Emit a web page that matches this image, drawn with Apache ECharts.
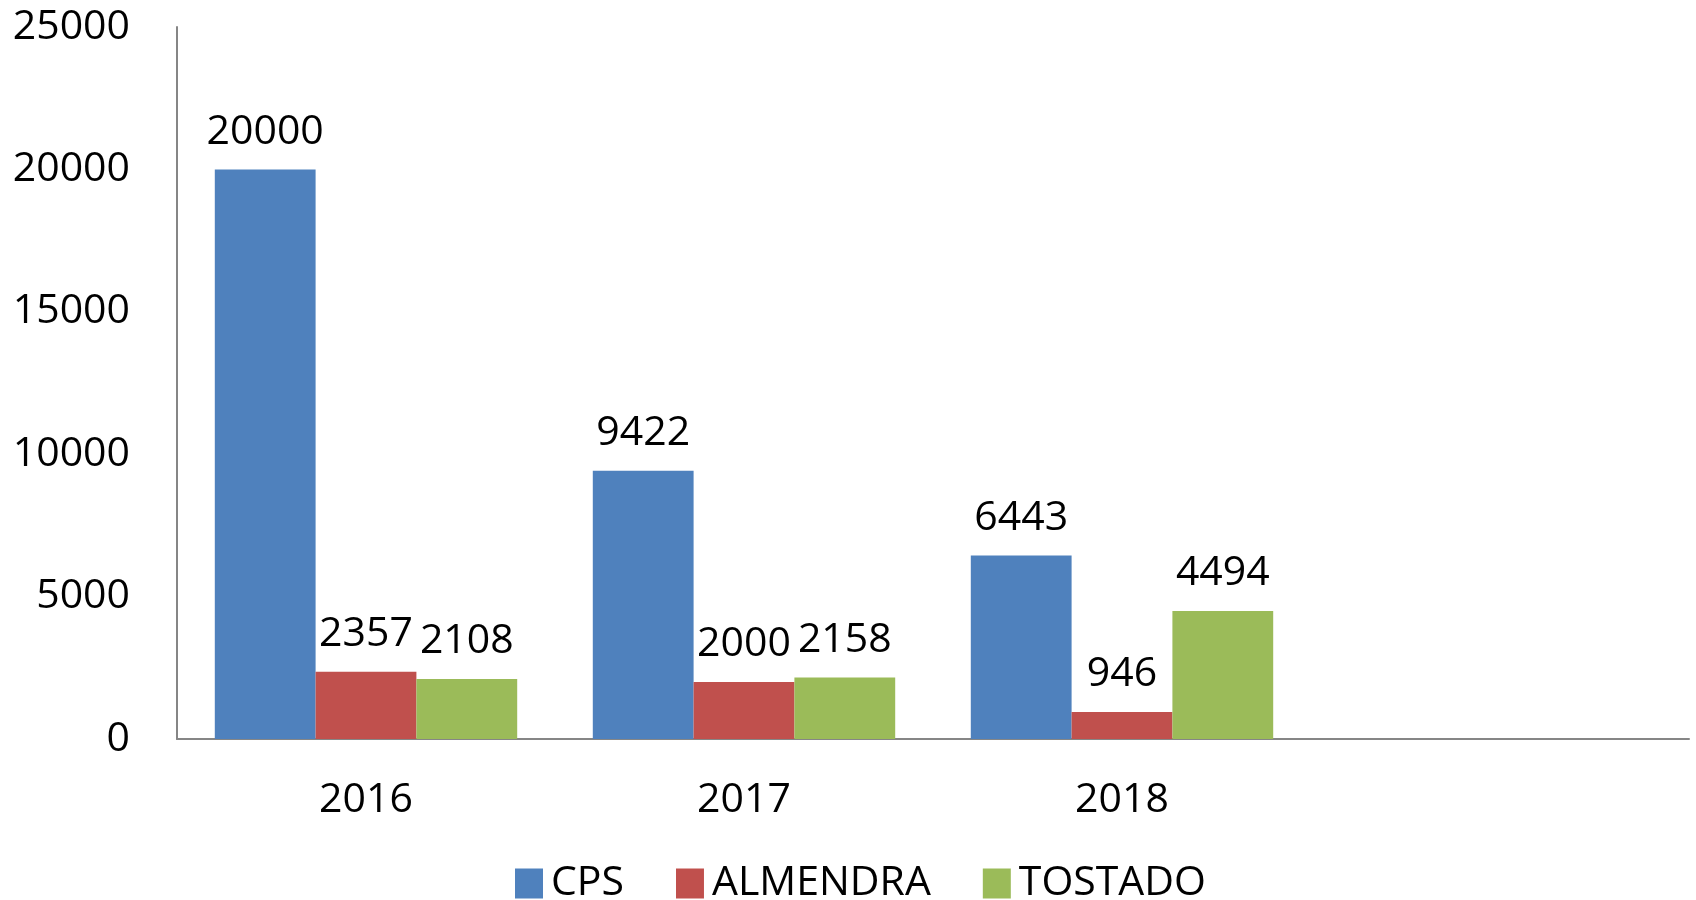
<!DOCTYPE html>
<html>
<head>
<meta charset="utf-8">
<script src="https://cdn.jsdelivr.net/npm/echarts@6/dist/echarts.min.js"></script>
<style>
html,body{margin:0;padding:0;background:#fff;}
#chart{width:1696px;height:900px;}
</style>
</head>
<body>
<div id="chart"></div>
<script>
const categories = ['2016', '2017', '2018', ''];
const cps = [20000, 9422, 6443];
const almendra = [2357, 2000, 946];
const tostado = [2108, 2158, 4494];
const seriesNames = ['CPS', 'ALMENDRA', 'TOSTADO'];
const yTicks = { min: 0, max: 25000, interval: 5000 };

const FONT = 'Open Sans';
const chart = echarts.init(document.getElementById('chart'));
const label = {
  show: true,
  position: 'top',
  distance: 17,
  color: '#000',
  fontFamily: FONT,
  fontSize: 41
};
chart.setOption({
  animation: false,
  textStyle: { fontFamily: FONT },
  grid: { left: 177, right: 7, top: 27, bottom: 161, containLabel: false },
  legend: {
    left: 510,
    top: 858,
    itemWidth: 28,
    itemHeight: 30,
    itemGap: 52,
    icon: 'rect',
    textStyle: { fontFamily: FONT, fontSize: 41, color: '#000', padding: [0, 0, 0, 3] },
    data: seriesNames
  },
  xAxis: {
    type: 'category',
    data: categories,
    axisLine: { lineStyle: { color: '#868686', width: 2 } },
    axisTick: { show: false },
    axisLabel: { color: '#000', fontFamily: FONT, fontSize: 41, margin: 41 }
  },
  yAxis: {
    type: 'value',
    min: yTicks.min,
    max: yTicks.max,
    interval: yTicks.interval,
    splitLine: { show: false },
    axisLine: { show: true, lineStyle: { color: '#868686', width: 2 } },
    axisTick: { show: false },
    axisLabel: { color: '#000', fontFamily: FONT, fontSize: 41, margin: 47, formatter: v => String(v) }
  },
  series: [
    { name: seriesNames[0], type: 'bar', data: cps, itemStyle: { color: '#4F81BD' }, label, barGap: '0%', barCategoryGap: '20%' },
    { name: seriesNames[1], type: 'bar', data: almendra, itemStyle: { color: '#C0504D' }, label, barGap: '0%', barCategoryGap: '20%' },
    { name: seriesNames[2], type: 'bar', data: tostado, itemStyle: { color: '#9BBB59' }, label, barGap: '0%', barCategoryGap: '20%' }
  ]
});
</script>
</body>
</html>
